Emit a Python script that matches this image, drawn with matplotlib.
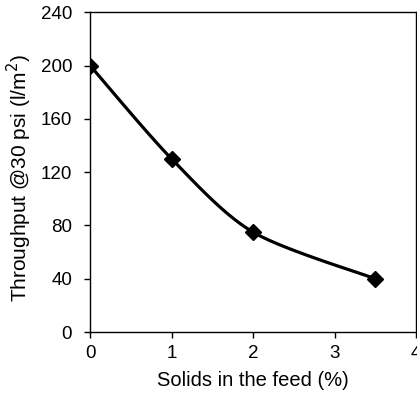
import numpy as np
import matplotlib
matplotlib.use("Agg")
import matplotlib.pyplot as plt

plt.rcParams['font.family'] = ['Liberation Sans', 'DejaVu Sans']

solids = [0, 1, 2, 3.5]
throughput = [200, 130, 75, 40]
x_ticks = [0, 1, 2, 3, 4]
y_ticks = [0, 40, 80, 120, 160, 200, 240]


def smooth_curve(x, y, sx, sy, k=1 / 7, n=40):
    # Bezier smoothing through the points (control points from neighbours)
    p = np.column_stack([np.asarray(x, float) * sx, np.asarray(y, float) * sy])
    pts = []
    for i in range(len(p) - 1):
        p0 = p[i - 1] if i > 0 else p[i]
        p3 = p[i + 2] if i + 2 < len(p) else p[i + 1]
        c1 = p[i] + (p[i + 1] - p0) * k
        c2 = p[i + 1] - (p3 - p[i]) * k
        t = np.linspace(0, 1, n)[:, None]
        seg = ((1 - t) ** 3 * p[i] + 3 * (1 - t) ** 2 * t * c1
               + 3 * (1 - t) * t ** 2 * c2 + t ** 3 * p[i + 1])
        pts.append(seg)
    pts = np.vstack(pts)
    return pts[:, 0] / sx, pts[:, 1] / sy


fig = plt.figure(figsize=(4.17, 3.94), dpi=100)
ax = fig.add_axes([0.216, 0.157, 0.782, 0.812])

# scale to roughly screen units so the smoothing looks right
sx, sy = 81.5, 320 / 240
cx, cy = smooth_curve(solids, throughput, sx, sy)
ax.plot(cx, cy, color='black', lw=2.3, solid_capstyle='round')
ax.plot(solids, throughput, linestyle='none', marker='D', ms=8,
        color='black', mec='black')

ax.set_xlim(0, 4)
ax.set_ylim(0, 240)
ax.set_xticks(x_ticks)
ax.set_yticks(y_ticks)
ax.tick_params(direction='out', length=4, width=1, labelsize=13.5,
               colors='black')
ax.tick_params(axis='y', pad=9)
ax.tick_params(axis='x', pad=5)
for s in ax.spines.values():
    s.set_linewidth(1)
    s.set_color('black')

ax.set_xlabel('Solids in the feed (%)', fontsize=14.5, labelpad=7)
ax.set_ylabel('Throughput @30 psi (l/m$^2$)', fontsize=15)
ax.yaxis.set_label_coords(-0.172, 0.48)

fig.savefig('out.png', dpi=100)
